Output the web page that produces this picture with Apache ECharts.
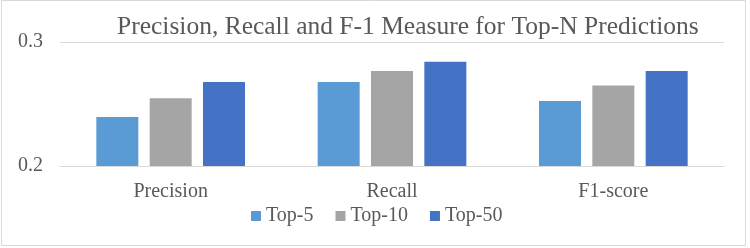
<!DOCTYPE html>
<html>
<head>
<meta charset="utf-8">
<script src="https://cdn.jsdelivr.net/npm/echarts@6/dist/echarts.min.js"></script>
<style>
html,body{margin:0;padding:0;background:#fff;}
#chart{width:750px;height:248px;}
</style>
</head>
<body>
<div id="chart"></div>
<script>
const categories = ['Precision', 'Recall', 'F1-score'];
const seriesNames = ['Top-5', 'Top-10', 'Top-50'];
const top5 = [0.2395, 0.2677, 0.2525];
const top10 = [0.2547, 0.2766, 0.2649];
const top50 = [0.2677, 0.2841, 0.2766];
const yTicks = [0.2, 0.3];

const colors = ['#5b9bd5', '#a5a5a5', '#4472c4'];
const seriesData = [top5, top10, top50];
const font = 'Liberation Serif';
const txt = '#595959';
const legendText = {fontFamily: font, fontSize: 20, color: txt, fontWeight: 'normal'};

const chart = echarts.init(document.getElementById('chart'), null, {renderer: 'canvas'});
chart.setOption({
  animation: false,
  backgroundColor: '#fff',
  textStyle: {fontFamily: font},
  title: {
    text: 'Precision, Recall and F-1 Measure for Top-N Predictions',
    left: 112,
    top: 9,
    textStyle: {fontFamily: font, fontSize: 25.5, fontWeight: 'normal', color: txt}
  },
  graphic: [{
    type: 'rect',
    shape: {x: 1.5, y: 0.5, width: 744, height: 245},
    style: {fill: 'none', stroke: '#d9d9d9', lineWidth: 1},
    silent: true, z: -1
  }],
  legend: {
    data: seriesNames,
    left: 246,
    top: 201,
    itemWidth: 10,
    itemHeight: 10,
    itemGap: 22,
    icon: 'rect',
    textStyle: legendText
  },
  grid: {left: 60, right: 26, top: 42, bottom: 82, containLabel: false},
  xAxis: {
    type: 'category',
    data: categories,
    axisLine: {lineStyle: {color: '#d9d9d9', width: 1}},
    axisTick: {show: false},
    axisLabel: {fontFamily: font, fontSize: 20, color: txt, margin: 16}
  },
  yAxis: {
    type: 'value',
    min: 0.2,
    max: 0.3,
    interval: 0.1,
    axisLine: {show: false},
    axisTick: {show: false},
    splitLine: {lineStyle: {color: '#d9d9d9', width: 1}},
    axisLabel: {
      fontFamily: font, fontSize: 20, color: txt, margin: 17,
      formatter: v => { const t = yTicks.find(x => Math.abs(x - v) < 1e-9); return t !== undefined ? t.toFixed(1) : ''; }
    }
  },
  series: seriesData.map((d, i) => ({
    name: seriesNames[i],
    type: 'bar',
    data: d,
    barWidth: 42,
    barGap: '27%',
    itemStyle: {color: colors[i]}
  }))
});
</script>
</body>
</html>
